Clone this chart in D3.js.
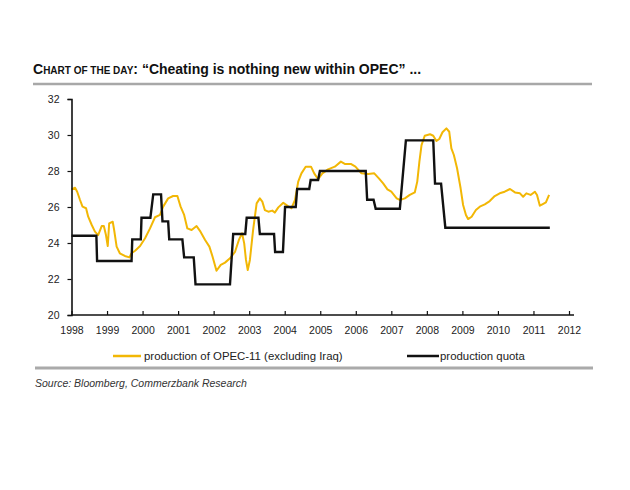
<!DOCTYPE html>
<html><head><meta charset="utf-8">
<script src="https://cdn.jsdelivr.net/npm/d3@7"></script>
<style>
html,body{margin:0;padding:0;background:#fff;}
svg{display:block;font-family:"Liberation Sans",Arial,sans-serif;}
</style></head>
<body>
<svg id="c" width="630" height="490"></svg>
<script>
// ---- data (decimal years, million barrels per day) ----
const prodYears = [1998.00,1998.10,1998.16,1998.24,1998.31,1998.41,1998.47,1998.57,1998.66,1998.75,1998.85,1998.91,1998.97,1999.02,1999.06,1999.16,1999.20,1999.27,1999.36,1999.50,1999.63,1999.69,1999.79,1999.93,2000.07,2000.21,2000.35,2000.49,2000.58,2000.72,2000.86,2000.98,2001.07,2001.17,2001.26,2001.38,2001.52,2001.63,2001.76,2001.88,2001.97,2002.08,2002.20,2002.32,2002.46,2002.60,2002.71,2002.80,2002.86,2002.91,2002.96,2003.02,2003.11,2003.21,2003.30,2003.37,2003.44,2003.54,2003.65,2003.72,2003.82,2003.96,2004.08,2004.19,2004.29,2004.38,2004.47,2004.59,2004.74,2004.83,2004.94,2005.06,2005.22,2005.41,2005.58,2005.69,2005.86,2005.99,2006.16,2006.35,2006.52,2006.65,2006.77,2006.89,2007.00,2007.15,2007.24,2007.38,2007.52,2007.66,2007.73,2007.79,2007.85,2007.94,2008.09,2008.18,2008.27,2008.35,2008.44,2008.55,2008.63,2008.69,2008.76,2008.85,2008.95,2009.02,2009.10,2009.16,2009.26,2009.38,2009.49,2009.63,2009.77,2009.91,2010.05,2010.19,2010.34,2010.48,2010.62,2010.71,2010.80,2010.92,2011.04,2011.10,2011.18,2011.25,2011.35,2011.44];
const prodValues = [26.98,27.07,26.85,26.39,26.02,25.93,25.46,25.00,24.63,24.44,24.94,24.94,24.44,23.83,25.09,25.18,24.72,23.80,23.43,23.28,23.20,23.43,23.57,23.83,24.26,24.81,25.43,25.56,26.02,26.48,26.61,26.61,26.02,25.56,24.81,24.72,24.94,24.63,24.17,23.80,23.24,22.46,22.78,22.91,23.15,23.50,24.17,24.54,23.98,23.06,22.50,23.06,24.72,26.20,26.48,26.30,25.83,25.74,25.80,25.69,25.98,26.24,26.06,25.93,26.39,27.41,27.87,28.24,28.24,27.87,27.54,27.87,28.09,28.24,28.52,28.39,28.39,28.24,27.87,27.83,27.87,27.59,27.31,26.98,26.85,26.48,26.39,26.48,26.67,26.81,27.41,28.52,29.44,29.96,30.04,29.96,29.67,29.78,30.15,30.37,30.18,29.26,28.89,28.15,27.04,26.11,25.56,25.33,25.46,25.83,26.02,26.15,26.33,26.61,26.76,26.85,27.00,26.81,26.76,26.57,26.76,26.67,26.85,26.67,26.07,26.15,26.26,26.67];
const quotaYears = [1998.00,1998.70,1998.72,1999.69,1999.71,1999.95,1999.97,2000.22,2000.30,2000.52,2000.56,2000.72,2000.75,2001.12,2001.17,2001.44,2001.49,2002.46,2002.55,2002.89,2002.93,2003.26,2003.30,2003.70,2003.73,2003.95,2004.01,2004.31,2004.35,2004.69,2004.73,2004.94,2004.99,2006.28,2006.32,2006.50,2006.56,2007.24,2007.41,2008.18,2008.23,2008.40,2008.52,2011.46];
const quotaValues = [24.4,24.4,23.0,23.0,24.2,24.2,25.4,25.4,26.7,26.7,25.2,25.2,24.2,24.2,23.2,23.2,21.7,21.7,24.5,24.5,25.4,25.4,24.5,24.5,23.5,23.5,26.0,26.0,27.0,27.0,27.5,27.5,28.0,28.0,26.4,26.4,25.9,25.9,29.7,29.7,27.3,27.3,24.85,24.85];
const yearTicks = [1998,1999,2000,2001,2002,2003,2004,2005,2006,2007,2008,2009,2010,2011,2012];
const valueTicks = [20,22,24,26,28,30,32];
const seriesNames = ["production of OPEC-11 (excluding Iraq)","production quota"];

const svg = d3.select("#c");
const x = d3.scaleLinear().domain([1998,2012]).range([71.5,569]);
const y = d3.scaleLinear().domain([20,32]).range([315,99]);
const yellow = "#f2b705";

// Title
const t = svg.append("text").attr("x",33).attr("y",74).attr("font-weight","bold").attr("fill","#111");
t.append("tspan").attr("font-size",14).text("C");
t.append("tspan").attr("font-size",10).text("HART OF THE DAY");
t.append("tspan").attr("font-size",14).text(": \u201CCheating is nothing new within OPEC\u201D ...");
svg.append("line").attr("x1",33).attr("x2",592).attr("y1",84).attr("y2",84).attr("stroke","#a8a8a8").attr("stroke-width",2.5);

// Lines
const prod = prodYears.map((d,i)=>[d,prodValues[i]]);
const quota = quotaYears.map((d,i)=>[d,quotaValues[i]]);
const line = d3.line().x(d=>x(d[0])).y(d=>y(d[1]));
svg.append("path").attr("d",line(prod)).attr("fill","none").attr("stroke",yellow).attr("stroke-width",2).attr("stroke-linejoin","round");
svg.append("path").attr("d",line(quota)).attr("fill","none").attr("stroke","#111").attr("stroke-width",2.4).attr("stroke-linejoin","miter");

// Axes
const yAxis = svg.append("g").attr("transform","translate(71.5,0)")
  .call(d3.axisLeft(y).tickValues(valueTicks).tickSize(4).tickPadding(8));
const xAxis = svg.append("g").attr("transform","translate(0,315)")
  .call(d3.axisBottom(x).tickValues(yearTicks).tickFormat(d3.format("d")).tickSize(-4).tickPadding(12));
[yAxis,xAxis].forEach(g=>{
  g.select(".domain").attr("stroke","#111").attr("stroke-width",1.6);
  g.selectAll(".tick line").attr("stroke","#111").attr("stroke-width",1.2);
  g.selectAll("text").attr("font-family","'Liberation Sans',Arial,sans-serif").attr("font-size",10.5).attr("fill","#222");
});
xAxis.select(".domain").attr("d","M71.5,0H574");

// Legend
const ly = 356;
svg.append("line").attr("x1",113).attr("x2",141).attr("y1",ly).attr("y2",ly).attr("stroke",yellow).attr("stroke-width",2.5);
svg.append("text").attr("x",144).attr("y",ly+4).attr("font-size",11.4).attr("fill","#222").text(seriesNames[0]);
svg.append("line").attr("x1",407).attr("x2",439).attr("y1",ly).attr("y2",ly).attr("stroke","#111").attr("stroke-width",2.5);
svg.append("text").attr("x",440).attr("y",ly+4).attr("font-size",11.4).attr("fill","#222").text(seriesNames[1]);

svg.append("line").attr("x1",35).attr("x2",593).attr("y1",368).attr("y2",368).attr("stroke","#aaa").attr("stroke-width",3);
svg.append("text").attr("x",35).attr("y",387).attr("font-size",10.5).attr("font-style","italic").attr("fill","#333").text("Source: Bloomberg, Commerzbank Research");
</script>
</body></html>
